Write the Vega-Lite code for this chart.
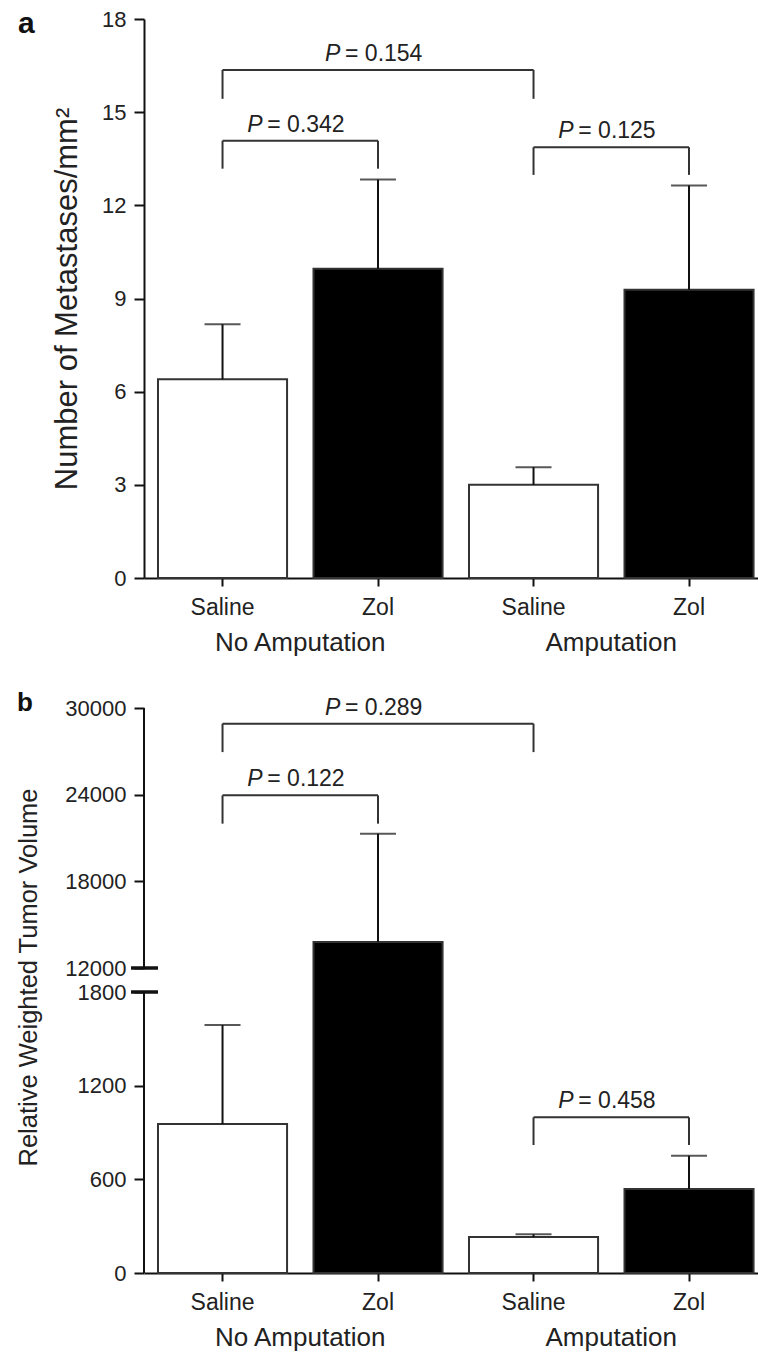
{
  "$schema": "https://vega.github.io/schema/vega-lite/v6.json",
  "padding": {"left": 16, "top": 8, "right": 0, "bottom": 0},
  "autosize": {"type": "pad"},
  "spacing": 33,
  "config": {
    "font": "Liberation Sans",
    "view": {"stroke": null},
    "axis": {"domainColor": "#111", "domainWidth": 2, "tickColor": "#111", "tickWidth": 2, "labelColor": "#222", "labelFontSize": 22, "titleColor": "#222", "titleFontWeight": "normal", "grid": false, "labelPadding": 8, "tickSize": 10},
    "axisX": {"labelFontSize": 23, "tickSize": 8, "labelPadding": 10, "labelAngle": 0},
    "axisY": {"labelOverlap": false}
  },
  "datasets": {
    "barsA": [
      {"cond": "No Amputation|Saline", "treat": "Saline", "mean": 6.4, "upper": 8.17},
      {"cond": "No Amputation|Zol", "treat": "Zol", "mean": 9.96, "upper": 12.83},
      {"cond": "Amputation|Saline", "treat": "Saline", "mean": 3.0, "upper": 3.57},
      {"cond": "Amputation|Zol", "treat": "Zol", "mean": 9.28, "upper": 12.64}
    ],
    "bracketsA": [
      {"from": "No Amputation|Saline", "to": "Amputation|Saline", "anchor": "No Amputation|Zol", "span": 2, "level": 16.36, "leg": 15.43, "p": "= 0.154"},
      {"from": "No Amputation|Saline", "to": "No Amputation|Zol", "anchor": "No Amputation|Saline", "span": 1, "level": 14.08, "leg": 13.18, "p": "= 0.342"},
      {"from": "Amputation|Saline", "to": "Amputation|Zol", "anchor": "Amputation|Saline", "span": 1, "level": 13.87, "leg": 12.98, "p": "= 0.125"}
    ],
    "barsB": [
      {"cond": "No Amputation|Saline", "treat": "Saline", "mean": 954, "upper": 1588},
      {"cond": "No Amputation|Zol", "treat": "Zol", "mean": 13800, "upper": 21300},
      {"cond": "Amputation|Saline", "treat": "Saline", "mean": 230, "upper": 248},
      {"cond": "Amputation|Zol", "treat": "Zol", "mean": 538, "upper": 751}
    ],
    "bracketsB": [
      {"from": "No Amputation|Saline", "to": "Amputation|Saline", "anchor": "No Amputation|Zol", "span": 2, "level": 28913, "leg": 26947, "p": "= 0.289"},
      {"from": "No Amputation|Saline", "to": "No Amputation|Zol", "anchor": "No Amputation|Saline", "span": 1, "level": 23951, "leg": 21993, "p": "= 0.122"},
      {"from": "Amputation|Saline", "to": "Amputation|Zol", "anchor": "Amputation|Saline", "span": 1, "level": 997, "leg": 820, "p": "= 0.458"}
    ],
    "groups": [
      {"anchor": "No Amputation|Saline", "label": "No Amputation"},
      {"anchor": "Amputation|Saline", "label": "Amputation"}
    ],
    "axisSegB": [{"lo": 0, "hi": 1800}, {"lo": 12000, "hi": 30000}],
    "breaksB": [{"v": 1800}, {"v": 12000}]
  },
  "vconcat": [
    {
      "width": 615,
      "height": 559,
      "title": {"text": "a", "anchor": "start", "frame": "group", "dx": -126, "offset": -55, "baseline": "alphabetic", "fontSize": 30, "fontWeight": "bold", "color": "#111"},
      "layer": [
        {
          "data": {"name": "barsA"},
          "mark": {"type": "bar", "stroke": "#333", "strokeWidth": 2},
          "encoding": {
            "x": {"field": "cond", "type": "nominal", "title": null,
              "scale": {"domain": ["No Amputation|Saline", "No Amputation|Zol", "Amputation|Saline", "Amputation|Zol"], "paddingInner": 0.17, "paddingOuter": 0.0625, "align": 0.72},
              "axis": {"title": null, "labelExpr": "split(datum.label, '|')[1]"}},
            "y": {"field": "mean", "type": "quantitative", "title": "Number of Metastases/mm²",
              "scale": {"domain": [0, 18], "nice": false},
              "axis": {"title": "Number of Metastases/mm²", "values": [0, 3, 6, 9, 12, 15, 18], "titleFontSize": 31, "titlePadding": 18}},
            "fill": {"field": "treat", "type": "nominal", "scale": {"domain": ["Saline", "Zol"], "range": ["#ffffff", "#000000"]}, "legend": null}
          }
        },
        {
          "data": {"name": "barsA"},
          "mark": {"type": "rule", "color": "#111", "strokeWidth": 2},
          "encoding": {
            "x": {"field": "cond", "type": "nominal", "title": null},
            "y": {"field": "mean", "type": "quantitative", "title": "Number of Metastases/mm²"},
            "y2": {"field": "upper"}
          }
        },
        {
          "data": {"name": "barsA"},
          "mark": {"type": "tick", "color": "#111", "thickness": 2, "size": 36, "orient": "horizontal"},
          "encoding": {
            "x": {"field": "cond", "type": "nominal", "title": null},
            "y": {"field": "upper", "type": "quantitative", "title": "Number of Metastases/mm²"}
          }
        },
        {
          "data": {"name": "bracketsA"},
          "mark": {"type": "rule", "color": "#333", "strokeWidth": 2},
          "encoding": {
            "x": {"field": "from", "type": "nominal", "title": null},
            "x2": {"field": "to"},
            "y": {"field": "level", "type": "quantitative", "title": "Number of Metastases/mm²"}
          }
        },
        {
          "data": {"name": "bracketsA"},
          "mark": {"type": "rule", "color": "#333", "strokeWidth": 2},
          "encoding": {
            "x": {"field": "from", "type": "nominal", "title": null},
            "y": {"field": "level", "type": "quantitative", "title": "Number of Metastases/mm²"},
            "y2": {"field": "leg"}
          }
        },
        {
          "data": {"name": "bracketsA"},
          "mark": {"type": "rule", "color": "#333", "strokeWidth": 2},
          "encoding": {
            "x": {"field": "to", "type": "nominal", "title": null},
            "y": {"field": "level", "type": "quantitative", "title": "Number of Metastases/mm²"},
            "y2": {"field": "leg"}
          }
        },
        {
          "data": {"name": "bracketsA"},
          "transform": [{"filter": "datum.span == 1"}],
          "mark": {"type": "text", "text": "P", "fontStyle": "italic", "fontSize": 23, "color": "#222", "align": "left", "baseline": "alphabetic", "dx": 24.75, "dy": -9},
          "encoding": {
            "x": {"field": "anchor", "type": "nominal", "title": null},
            "y": {"field": "level", "type": "quantitative", "title": "Number of Metastases/mm²"}
          }
        },
        {
          "data": {"name": "bracketsA"},
          "transform": [{"filter": "datum.span == 1"}],
          "mark": {"type": "text", "fontSize": 23, "color": "#222", "align": "left", "baseline": "alphabetic", "dx": 44.75, "dy": -9},
          "encoding": {
            "x": {"field": "anchor", "type": "nominal", "title": null},
            "y": {"field": "level", "type": "quantitative", "title": "Number of Metastases/mm²"},
            "text": {"field": "p"}
          }
        },
        {
          "data": {"name": "bracketsA"},
          "transform": [{"filter": "datum.span == 2"}],
          "mark": {"type": "text", "text": "P", "fontStyle": "italic", "fontSize": 23, "color": "#222", "align": "left", "baseline": "alphabetic", "dx": -53, "dy": -9},
          "encoding": {
            "x": {"field": "anchor", "type": "nominal", "title": null},
            "y": {"field": "level", "type": "quantitative", "title": "Number of Metastases/mm²"}
          }
        },
        {
          "data": {"name": "bracketsA"},
          "transform": [{"filter": "datum.span == 2"}],
          "mark": {"type": "text", "fontSize": 23, "color": "#222", "align": "left", "baseline": "alphabetic", "dx": -33, "dy": -9},
          "encoding": {
            "x": {"field": "anchor", "type": "nominal", "title": null},
            "y": {"field": "level", "type": "quantitative", "title": "Number of Metastases/mm²"},
            "text": {"field": "p"}
          }
        },
        {
          "data": {"name": "groups"},
          "mark": {"type": "text", "fontSize": 26, "color": "#222", "align": "center", "baseline": "middle", "dx": 77.75, "dy": 65},
          "encoding": {
            "x": {"field": "anchor", "type": "nominal", "title": null},
            "y": {"datum": 0, "type": "quantitative", "title": "Number of Metastases/mm²"},
            "text": {"field": "label"}
          }
        }
      ]
    },
    {
      "width": 615,
      "height": 565,
      "title": {"text": "b", "anchor": "start", "frame": "group", "dx": -127, "offset": -40, "baseline": "alphabetic", "fontSize": 26, "fontWeight": "bold", "color": "#111"},
      "resolve": {"scale": {"x": "independent"}},
      "layer": [
        {
          "layer": [
            {
              "data": {"name": "barsB"},
              "mark": {"type": "bar", "stroke": "#333", "strokeWidth": 2},
              "encoding": {
                "x": {"field": "cond", "type": "nominal", "title": null,
                  "scale": {"domain": ["No Amputation|Saline", "No Amputation|Zol", "Amputation|Saline", "Amputation|Zol"], "paddingInner": 0.17, "paddingOuter": 0.0625, "align": 0.72},
                  "axis": {"title": null, "labelExpr": "split(datum.label, '|')[1]"}},
                "y": {"field": "mean", "type": "quantitative", "title": "Relative Weighted Tumor Volume",
                  "scale": {"domain": [0, 1800, 12000, 30000], "range": [565, 284, 260, 0], "nice": false, "zero": false},
                  "axis": {"title": "Relative Weighted Tumor Volume", "values": [0, 600, 1200, 1800, 12000, 18000, 24000, 30000], "format": "d", "domain": false, "titleFontSize": 25.5, "titlePadding": 23, "titleY": 269}},
                "fill": {"field": "treat", "type": "nominal", "scale": {"domain": ["Saline", "Zol"], "range": ["#ffffff", "#000000"]}, "legend": null}
              }
            },
            {
              "data": {"name": "barsB"},
              "mark": {"type": "rule", "color": "#111", "strokeWidth": 2},
              "encoding": {
                "x": {"field": "cond", "type": "nominal", "title": null},
                "y": {"field": "mean", "type": "quantitative", "title": "Relative Weighted Tumor Volume"},
                "y2": {"field": "upper"}
              }
            },
            {
              "data": {"name": "barsB"},
              "mark": {"type": "tick", "color": "#111", "thickness": 2, "size": 36, "orient": "horizontal"},
              "encoding": {
                "x": {"field": "cond", "type": "nominal", "title": null},
                "y": {"field": "upper", "type": "quantitative", "title": "Relative Weighted Tumor Volume"}
              }
            },
            {
              "data": {"name": "bracketsB"},
              "mark": {"type": "rule", "color": "#333", "strokeWidth": 2},
              "encoding": {
                "x": {"field": "from", "type": "nominal", "title": null},
                "x2": {"field": "to"},
                "y": {"field": "level", "type": "quantitative", "title": "Relative Weighted Tumor Volume"}
              }
            },
            {
              "data": {"name": "bracketsB"},
              "mark": {"type": "rule", "color": "#333", "strokeWidth": 2},
              "encoding": {
                "x": {"field": "from", "type": "nominal", "title": null},
                "y": {"field": "level", "type": "quantitative", "title": "Relative Weighted Tumor Volume"},
                "y2": {"field": "leg"}
              }
            },
            {
              "data": {"name": "bracketsB"},
              "mark": {"type": "rule", "color": "#333", "strokeWidth": 2},
              "encoding": {
                "x": {"field": "to", "type": "nominal", "title": null},
                "y": {"field": "level", "type": "quantitative", "title": "Relative Weighted Tumor Volume"},
                "y2": {"field": "leg"}
              }
            },
            {
              "data": {"name": "bracketsB"},
              "transform": [{"filter": "datum.span == 1"}],
              "mark": {"type": "text", "text": "P", "fontStyle": "italic", "fontSize": 23, "color": "#222", "align": "left", "baseline": "alphabetic", "dx": 24.75, "dy": -9},
              "encoding": {
                "x": {"field": "anchor", "type": "nominal", "title": null},
                "y": {"field": "level", "type": "quantitative", "title": "Relative Weighted Tumor Volume"}
              }
            },
            {
              "data": {"name": "bracketsB"},
              "transform": [{"filter": "datum.span == 1"}],
              "mark": {"type": "text", "fontSize": 23, "color": "#222", "align": "left", "baseline": "alphabetic", "dx": 44.75, "dy": -9},
              "encoding": {
                "x": {"field": "anchor", "type": "nominal", "title": null},
                "y": {"field": "level", "type": "quantitative", "title": "Relative Weighted Tumor Volume"},
                "text": {"field": "p"}
              }
            },
            {
              "data": {"name": "bracketsB"},
              "transform": [{"filter": "datum.span == 2"}],
              "mark": {"type": "text", "text": "P", "fontStyle": "italic", "fontSize": 23, "color": "#222", "align": "left", "baseline": "alphabetic", "dx": -53, "dy": -9},
              "encoding": {
                "x": {"field": "anchor", "type": "nominal", "title": null},
                "y": {"field": "level", "type": "quantitative", "title": "Relative Weighted Tumor Volume"}
              }
            },
            {
              "data": {"name": "bracketsB"},
              "transform": [{"filter": "datum.span == 2"}],
              "mark": {"type": "text", "fontSize": 23, "color": "#222", "align": "left", "baseline": "alphabetic", "dx": -33, "dy": -9},
              "encoding": {
                "x": {"field": "anchor", "type": "nominal", "title": null},
                "y": {"field": "level", "type": "quantitative", "title": "Relative Weighted Tumor Volume"},
                "text": {"field": "p"}
              }
            },
            {
              "data": {"name": "groups"},
              "mark": {"type": "text", "fontSize": 26, "color": "#222", "align": "center", "baseline": "middle", "dx": 77.75, "dy": 65},
              "encoding": {
                "x": {"field": "anchor", "type": "nominal", "title": null},
                "y": {"datum": 0, "type": "quantitative", "title": "Relative Weighted Tumor Volume"},
                "text": {"field": "label"}
              }
            }
          ]
        },
        {
          "layer": [
            {
              "data": {"name": "axisSegB"},
              "mark": {"type": "rule", "color": "#111", "strokeWidth": 2},
              "encoding": {
                "x": {"datum": 0, "type": "quantitative", "scale": {"domain": [0, 1], "nice": false, "zero": false}, "axis": null},
                "y": {"field": "lo", "type": "quantitative", "title": "Relative Weighted Tumor Volume"},
                "y2": {"field": "hi"}
              }
            },
            {
              "data": {"name": "breaksB"},
              "mark": {"type": "rule", "color": "#111", "strokeWidth": 3.5},
              "encoding": {
                "x": {"datum": -0.0211, "type": "quantitative", "axis": null},
                "x2": {"datum": 0.0228},
                "y": {"field": "v", "type": "quantitative", "title": "Relative Weighted Tumor Volume"}
              }
            }
          ]
        }
      ]
    }
  ]
}
